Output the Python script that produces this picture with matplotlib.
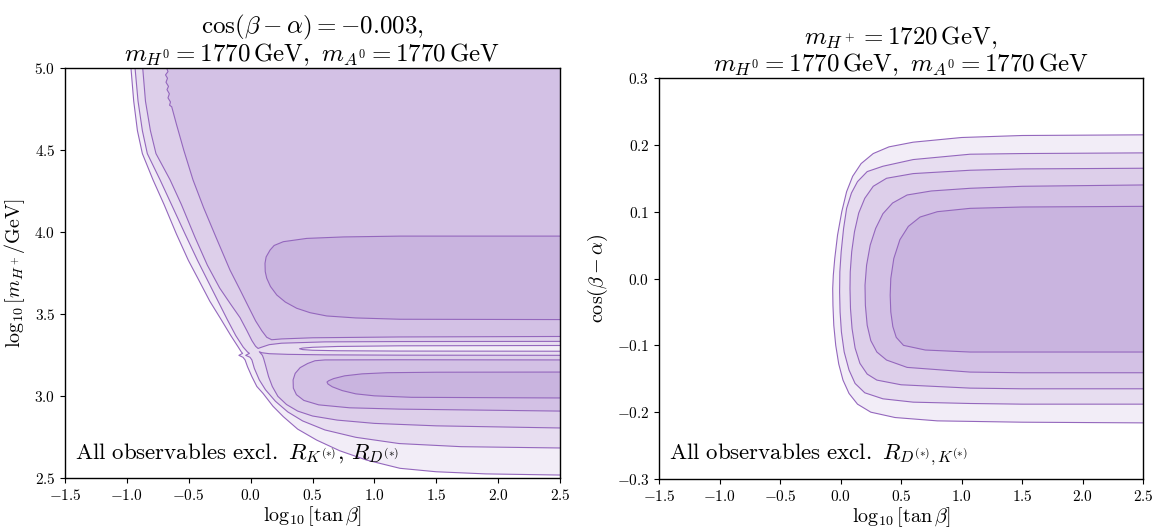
import numpy as np
import matplotlib
matplotlib.use('Agg')
import matplotlib.pyplot as plt
from matplotlib.ticker import FuncFormatter

plt.rcParams['mathtext.fontset'] = 'cm'
plt.rcParams['font.family'] = ['DejaVu Serif']

# ---- left panel: contour lines (log10 tan b, log10 mH+) ----
line_a = np.array([
    [-0.967, 5.00], [-0.945, 4.80], [-0.915, 4.62], [-0.875, 4.48], [-0.789, 4.32],
    [-0.70, 4.17], [-0.60, 3.99], [-0.504, 3.83], [-0.42, 3.71], [-0.33, 3.58],
    [-0.24, 3.47], [-0.16, 3.37], [-0.10, 3.30], [-0.075, 3.27], [-0.065, 3.262],
    [-0.095, 3.25], [-0.062, 3.238], [-0.045, 3.222], [-0.025, 3.18], [0.01, 3.12],
    [0.05, 3.06], [0.10, 3.018], [0.18, 2.94], [0.264, 2.876], [0.38, 2.80],
    [0.534, 2.733], [0.72, 2.668], [0.938, 2.611], [1.207, 2.561], [1.5, 2.54],
    [1.9, 2.527], [2.5, 2.52]])
line_b = np.array([
    [-0.934, 5.00], [-0.91, 4.80], [-0.875, 4.62], [-0.835, 4.48], [-0.732, 4.32],
    [-0.64, 4.17], [-0.53, 3.99], [-0.43, 3.83], [-0.35, 3.71], [-0.27, 3.59],
    [-0.19, 3.47], [-0.12, 3.37], [-0.06, 3.30], [-0.025, 3.27], [-0.01, 3.262],
    [-0.04, 3.25], [-0.005, 3.238], [0.01, 3.222], [0.03, 3.17], [0.07, 3.10],
    [0.12, 3.04], [0.2, 2.97], [0.3, 2.905], [0.42, 2.85], [0.6, 2.795],
    [0.85, 2.75], [1.2, 2.712], [1.7, 2.693], [2.5, 2.685]])
line_c_upper = np.array([
    [-0.872, 5.00], [-0.85, 4.80], [-0.81, 4.62], [-0.765, 4.48], [-0.651, 4.32],
    [-0.56, 4.17], [-0.45, 3.97], [-0.35, 3.80], [-0.25, 3.66], [-0.16, 3.56],
    [-0.086, 3.48], [-0.03, 3.40], [0.01, 3.34], [0.04, 3.305], [0.06, 3.292],
    [0.09, 3.30], [0.15, 3.315], [0.25, 3.324], [0.6, 3.332], [1.2, 3.334],
    [2.5, 3.335]])
line_c_lower = np.array([
    [2.5, 3.250], [1.2, 3.251], [0.6, 3.253], [0.3, 3.256], [0.15, 3.26],
    [0.09, 3.266], [0.07, 3.272], [0.095, 3.25], [0.105, 3.23], [0.12, 3.19],
    [0.145, 3.12], [0.175, 3.06], [0.22, 3.00], [0.29, 2.95], [0.38, 2.91],
    [0.5, 2.88], [0.7, 2.855], [1.0, 2.835], [1.5, 2.82], [2.5, 2.807]])
line_d_upper = np.array([
    [-0.678, 5.00], [-0.668, 4.98], [-0.688, 4.96], [-0.672, 4.94], [-0.684, 4.915],
    [-0.664, 4.89], [-0.676, 4.87], [-0.657, 4.845], [-0.668, 4.82], [-0.648, 4.795],
    [-0.655, 4.775], [-0.638, 4.766], [-0.60, 4.66], [-0.54, 4.50], [-0.466, 4.32],
    [-0.38, 4.15], [-0.28, 3.97], [-0.167, 3.77], [-0.086, 3.65], [-0.02, 3.55],
    [0.04, 3.46], [0.09, 3.40], [0.13, 3.36], [0.17, 3.345], [0.25, 3.35],
    [0.5, 3.357], [1.2, 3.362], [2.5, 3.365]])
line_d_lower = np.array([
    [2.5, 3.222], [1.2, 3.223], [0.6, 3.222], [0.52, 3.217], [0.46, 3.20],
    [0.40, 3.175], [0.36, 3.14], [0.343, 3.10], [0.345, 3.05], [0.37, 3.01],
    [0.43, 2.975], [0.55, 2.948], [0.8, 2.93], [1.2, 2.922], [2.5, 2.910]])
valley_core = np.array([
    [2.5, 3.310], [1.2, 3.308], [0.7, 3.304], [0.5, 3.299], [0.42, 3.294],
    [0.395, 3.29], [0.42, 3.285], [0.5, 3.281], [0.7, 3.278], [1.2, 3.276],
    [2.5, 3.275]])
island_upper = np.array([
    [2.5, 3.977], [1.207, 3.977], [0.75, 3.972], [0.453, 3.963], [0.264, 3.943],
    [0.19, 3.92], [0.157, 3.892], [0.125, 3.85], [0.116, 3.811], [0.118, 3.76],
    [0.13, 3.72], [0.16, 3.67], [0.211, 3.618], [0.28, 3.575], [0.372, 3.537],
    [0.48, 3.51], [0.615, 3.49], [0.85, 3.478], [1.207, 3.470], [2.5, 3.468]])
island_lower = np.array([
    [2.5, 3.148], [1.5, 3.147], [1.1, 3.144], [0.9, 3.137], [0.76, 3.125],
    [0.67, 3.108], [0.63, 3.095], [0.617, 3.087], [0.625, 3.075], [0.66, 3.058],
    [0.74, 3.035], [0.85, 3.015], [1.0, 3.003], [1.3, 2.994], [2.5, 2.990]])

# ---- right panel: nested contours (log10 tan b, cos(b-a)) ----
ring_1 = np.array([
    [2.5, 0.215], [1.5, 0.214], [1.0, 0.211], [0.6, 0.204], [0.4, 0.197],
    [0.27, 0.187], [0.17, 0.172], [0.1, 0.153], [0.05, 0.13], [0.01, 0.1],
    [-0.025, 0.065], [-0.048, 0.03], [-0.06, 0.005], [-0.065, -0.015],
    [-0.063, -0.04], [-0.056, -0.07], [-0.04, -0.1], [-0.015, -0.128],
    [0.02, -0.152], [0.07, -0.172], [0.14, -0.188], [0.25, -0.2], [0.45, -0.208],
    [0.8, -0.213], [1.5, -0.215], [2.5, -0.216]])
ring_2 = np.array([
    [2.5, 0.188], [1.5, 0.187], [1.07, 0.186], [0.6, 0.178], [0.35, 0.168],
    [0.22, 0.16], [0.14, 0.145], [0.09, 0.128], [0.05, 0.105], [0.025, 0.075],
    [0.005, 0.04], [-0.006, 0.01], [-0.008, -0.02], [-0.004, -0.05],
    [0.007, -0.08], [0.03, -0.11], [0.07, -0.137], [0.12, -0.157],
    [0.2, -0.171], [0.35, -0.18], [0.6, -0.185], [1.07, -0.187],
    [1.5, -0.188], [2.5, -0.188]])
ring_3 = np.array([
    [2.5, 0.165], [1.5, 0.164], [1.07, 0.162], [0.6, 0.157], [0.38, 0.15],
    [0.27, 0.138], [0.2, 0.12], [0.15, 0.098], [0.115, 0.07], [0.092, 0.04],
    [0.08, 0.01], [0.078, -0.015], [0.082, -0.045], [0.095, -0.075],
    [0.12, -0.104], [0.16, -0.127], [0.22, -0.143], [0.3, -0.152],
    [0.5, -0.159], [1.07, -0.164], [1.5, -0.165], [2.5, -0.165]])
ring_4 = np.array([
    [2.5, 0.14], [1.5, 0.138], [1.07, 0.135], [0.75, 0.131], [0.55, 0.125],
    [0.43, 0.113], [0.35, 0.097], [0.29, 0.075], [0.245, 0.05], [0.215, 0.02],
    [0.202, -0.01], [0.205, -0.04], [0.22, -0.07], [0.25, -0.093], [0.3, -0.11],
    [0.38, -0.122], [0.55, -0.133], [1.07, -0.14], [1.5, -0.141], [2.5, -0.141]])
ring_5 = np.array([
    [2.5, 0.108], [1.5, 0.107], [1.07, 0.105], [0.8, 0.1], [0.657, 0.092],
    [0.56, 0.078], [0.49, 0.058], [0.44, 0.03], [0.415, 0.0], [0.41, -0.025],
    [0.415, -0.05], [0.432, -0.072], [0.46, -0.088], [0.52, -0.1], [0.7, -0.107],
    [1.07, -0.110], [1.5, -0.110], [2.5, -0.110]])

x_ticks = [-1.5, -1.0, -0.5, 0.0, 0.5, 1.0, 1.5, 2.0, 2.5]
y_ticks_left = [2.5, 3.0, 3.5, 4.0, 4.5, 5.0]
y_ticks_right = [-0.3, -0.2, -0.1, 0.0, 0.1, 0.2, 0.3]

level_colors = ['#f2edf7', '#e7ddf0', '#ddcfea', '#d3c1e5', '#c9b4df']
line_color = '#9467bd'


def fill_right(ax, pts, color):
    # close the region through the space right of the axes (x = 3)
    xs = np.r_[pts[:, 0], 3.0, 3.0]
    ys = np.r_[pts[:, 1], pts[-1, 1], pts[0, 1]]
    ax.fill(xs, ys, color=color, lw=0)


def draw_line(ax, pts):
    ax.plot(pts[:, 0], pts[:, 1], color=line_color, lw=0.8)


fig = plt.figure(figsize=(11.53, 5.29), dpi=100)
ax1 = fig.add_axes([0.0564, 0.0958, 0.4293, 0.775])
ax2 = fig.add_axes([0.5716, 0.0945, 0.4198, 0.758])

# left panel fills, outer level first
fill_right(ax1, line_a, level_colors[0])
poly_b = np.vstack([line_b, [[3.0, line_b[-1, 1]], [3.0, valley_core[-1, 1]]],
                    valley_core[::-1], [[3.0, valley_core[0, 1]], [3.0, 5.0]]])
ax1.fill(poly_b[:, 0], poly_b[:, 1], color=level_colors[1], lw=0)
fill_right(ax1, np.vstack([line_c_upper, line_c_lower]), level_colors[2])
fill_right(ax1, np.vstack([line_d_upper, line_d_lower]), level_colors[3])
fill_right(ax1, island_upper, level_colors[4])
fill_right(ax1, island_lower, level_colors[4])
for pts in [line_a, line_b, line_c_upper, line_c_lower, line_d_upper,
            line_d_lower, valley_core, island_upper, island_lower]:
    draw_line(ax1, pts)

# right panel
for pts, col in zip([ring_1, ring_2, ring_3, ring_4, ring_5], level_colors):
    fill_right(ax2, pts, col)
for pts in [ring_1, ring_2, ring_3, ring_4, ring_5]:
    draw_line(ax2, pts)

fmt = FuncFormatter(lambda v, p: r'$%.1f$' % v)
for ax in (ax1, ax2):
    ax.set_xlim(-1.5, 2.5)
    ax.set_xticks(x_ticks)
    ax.xaxis.set_major_formatter(fmt)
    ax.yaxis.set_major_formatter(fmt)
    ax.tick_params(direction='out', length=3.5, width=0.8, labelsize=11)
    ax.set_xlabel(r'$\log_{10}[\tan\beta]$', fontsize=14.5, labelpad=1)
    for s in ax.spines.values():
        s.set_linewidth(1.0)

ax1.set_ylim(2.5, 5.0)
ax1.set_yticks(y_ticks_left)
ax1.set_ylabel(r'$\log_{10}[m_{H^+}/\mathrm{GeV}]$', fontsize=14.5, labelpad=5)
ax1.set_title(r'$\cos(\beta-\alpha)=-0.003,$' + '\n' +
              r'$m_{H^0}=1770\,\mathrm{GeV},\ m_{A^0}=1770\,\mathrm{GeV}$',
              fontsize=18, pad=2, linespacing=1.0)
ax1.text(-1.42, 2.62, r'$\mathrm{All\ observables\ excl.}\ R_{K^{(*)}},\,R_{D^{(*)}}$',
         fontsize=16.5, va='baseline')

ax2.set_ylim(-0.3, 0.3)
ax2.set_yticks(y_ticks_right)
ax2.set_ylabel(r'$\cos(\beta-\alpha)$', fontsize=14.5, labelpad=5)
ax2.set_title(r'$m_{H^+}=1720\,\mathrm{GeV},$' + '\n' +
              r'$m_{H^0}=1770\,\mathrm{GeV},\ m_{A^0}=1770\,\mathrm{GeV}$',
              fontsize=18, pad=2, linespacing=1.0)
ax2.text(-1.417, -0.27, r'$\mathrm{All\ observables\ excl.}\ R_{D^{(*)},K^{(*)}}$',
         fontsize=16.5, va='baseline')

fig.savefig('out.png', dpi=100)
